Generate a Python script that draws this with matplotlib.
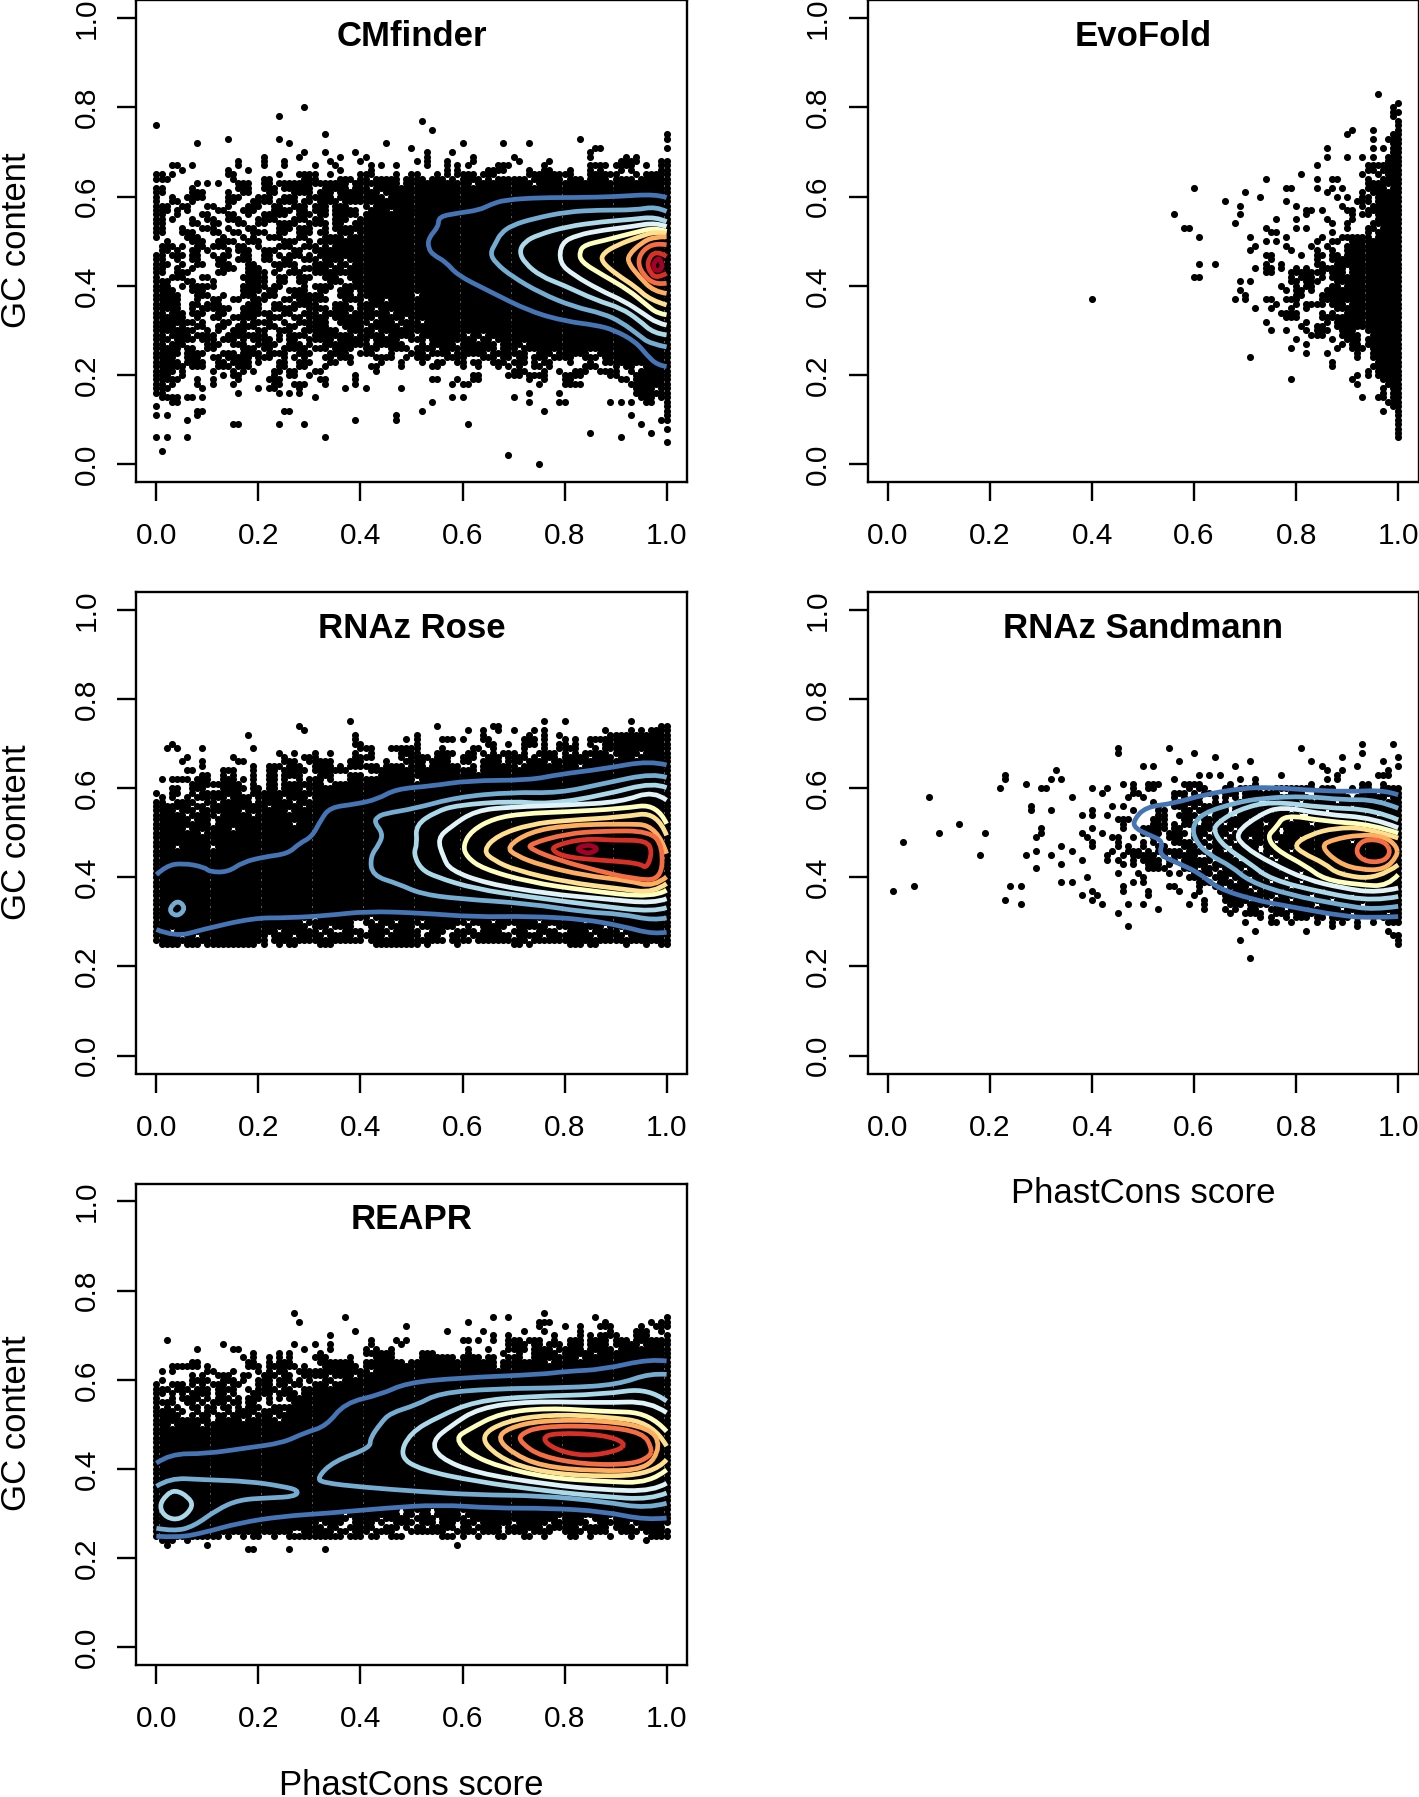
import matplotlib
matplotlib.use("Agg")
import matplotlib.pyplot as plt
from matplotlib.path import Path
from matplotlib.patches import PathPatch

plt.rcParams['font.family'] = ['Liberation Sans', 'DejaVu Sans']

# RdYlBu steps, outer contour first
LEVEL_COLORS = ['#4575B4', '#74ADD1', '#ABD9E9', '#E0F3F8', '#FFFFBF',
                '#FEE090', '#FDAE61', '#F46D43', '#D73027', '#A50026']

TICKS = [0.0, 0.2, 0.4, 0.6, 0.8, 1.0]
TICK_LABELS = ['0.0', '0.2', '0.4', '0.6', '0.8', '1.0']

# Points sit on a 0.01 grid. Key is GC content in %, text is PhastCons runs in %.
CM_ROWS = {
    80: "29", 78: "24", 77: "52", 76: "0", 75: "54", 74: "33 100", 73: "14 24 83 100",
    72: "8 26 45 60 68 73", 71: "50 86-87 100", 70: "29 33 39 53 58 85",
    69: "21 28 36 41 53 62 70 85 92 94",
    68: "16 21 25 34 40 51 53 57 62 71 77 91-94 99-100",
    67: "3-4 7 16 21 25 31 35 42 44 47 53 57 59 61 67-69 76 85-88 90-93 96 99-100",
    66: "5 14 18 36 42 57 59 65-68 73 76-77 81 85 87 91 93 99-100",
    65: "0-1 3 14-15 24 28-31 34 40-42 47 50-51 55 57 59-62 64-66 73-81 85-90 94 96-100",
    64: "0-2 15 21-22 29-31 36-38 40-41 43-47 49-52 54-56 58 60-63 65 67-72 74-79 81-83 85-88 90-93 95-100",
    63: "8 10 12 16-18 21-22 24-37 39-47 49-61 63-73 75-100",
    62: "0-1 7 16-18 21-23 25-30 33-37 39-41 43-100",
    61: "0-1 7-9 14 17-18 22-23 27-30 32-34 36-43 45-100",
    60: "0 3 6-9 14-16 20-22 25-27 30-34 36-44 46-100",
    59: "0 3-4 7 14-15 19-22 24-27 29-30 32-35 37-100",
    58: "0-2 5-6 10-11 14 18-20 23-24 27-29 31-33 35-37 41 43-100",
    57: "0-2 4 6 12-13 17-19 23-26 28-29 31-33 35-39 42-45 47-100",
    56: "0-1 4 9-10 14-15 18 21-25 28-30 32-33 35-39 41-100",
    55: "0-1 3 7 10-11 14-16 20-23 27-29 31-32 35-37 40-100",
    54: "0-1 7-8 11-12 16-17 20-21 24-27 30-33 35-36 39-100",
    53: "0-1 5 9-11 14 18-19 24-26 28-30 33 35-100",
    52: "0-1 5-7 11-12 15-16 19-21 24-25 28-30 32-33 36-38 40-100",
    51: "0 6-8 13 17 19 22-24 28-29 33-36 38-100",
    50: "2 7-9 12-15 18-20 25-27 30 32-100",
    49: "1-3 5 8-9 11-13 16-17 20 24-26 29-31 33 35-100",
    48: "1-2 4 7-8 10 14 16-18 21-23 27-28 31-100",
    47: "0-1 3-5 7-8 11 13-14 17-18 21-22 24 26-28 30 32-100",
    46: "0-1 4 7-8 12-13 16-18 21-22 25-26 29-31 33-36 38-100",
    45: "0-2 5 8-9 12-14 18-19 23-27 31-34 36-37 39-100",
    44: "0-1 4 7 13-15 18-20 24 27 29-33 35-36 38-100",
    43: "0-1 4-6 12-13 18-21 23 26-28 31-100",
    42: "0 3-5 9-10 17-21 24-25 28-30 33-35 38-100",
    41: "0-2 6-7 11 18-21 24-25 28-29 34-36 39-100",
    40: "0-2 5 7-11 17-21 23-24 29 31-34 37-100",
    39: "0-3 7-9 17-20 22-23 26-29 32-33 36-38 40-100",
    38: "0-4 8-10 13 17-19 21-23 27-32 36-38 40-50 52-100",
    37: "0-4 8 11-12 15-16 19-21 25-26 28-33 37-40 42-44 46-100",
    36: "0-4 7-8 10-12 18-20 23-24 27-31 35-37 40-100",
    35: "0-4 7 9-14 17-20 23-27 30-33 35-38 40-42 44-100",
    34: "0-1 3-5 7-9 12-13 17-22 25-26 29-31 33-37 39-45 47-100",
    33: "0-5 8 11-12 15-19 22-24 27-28 30-33 35-42 44-48 50-100",
    32: "0-7 9 13-14 17 19-22 25 28-33 36-41 43-46 48-51 53-100",
    31: "0-3 5 8-9 12-13 16-19 22-23 26-27 30-33 37-40 42-47 49-100",
    30: "0-7 10 12 15-17 20-21 24-26 29-35 38-42 44-100",
    29: "0-1 3-6 8-11 14-21 24 26-29 31-38 40-44 46-50 52-60 62-63 65-100",
    28: "0-2 4-7 9-11 13-15 17 19-22 24 26-27 30-34 36-41 43-47 50-52 54-62 64-65 67-100",
    27: "0-1 3-5 10-12 15-17 20-23 26-28 30 33-41 43-48 52 54-58 60-66 68-71 73-100",
    26: "0-4 6-7 10-11 17-19 21-22 25-29 31-33 35-38 41-43 46-49 51-54 56-66 68-70 72-100",
    25: "0-4 6-9 13-15 17-20 22-25 28-30 34-37 40-42 46 50-52 54-57 59-64 66-72 75-77 79-84 87-100",
    24: "0-3 6-8 11-12 14-18 20-22 25 27 29 33-34 36-38 43-46 49 51-53 57-60 64-66 68-69 71-72 74-76 78-81 84-86 88-100",
    23: "0-4 6-9 12-13 15-18 20 24-25 28-30 34-35 38 44 48 52 55-56 59-60 62-63 66-68 70-72 74 76-77 81 85 88-100",
    22: "0-5 7-9 12-14 16-18 24-25 28-29 33 42-43 48 54-55 60 63 67 69 71 74-75 77 84-86 90 92-93 96-100",
    21: "0-3 5 11 15 17 19 23-24 26-27 31-32 43 70-72 76 79 82-84 87-90 93 95-100",
    20: "0-2 5 13 15-16 23 26-27 30 39 62-63 69-71 73-76 80-83 89-90 94-100",
    19: "0-4 8 11 16 22-24 32-33 39 54-55 59 62-63 73 76 80-81 91-92 94-100",
    18: "0-1 3 8 11 15 23-24 27-29 33 39 58 60-61 75 80-83 93-100",
    17: "0-2 9 20 22-23 28 37 41 48 94-97 99-100",
    16: "0-1 16 24 26 28 73 79 94-100",
    15: "1-4 6-7 9 31 58 60 70 95-97 99-100",
    14: "3-4 54 73 79-80 89 91 93 96-97 100",
    13: "0 100", 12: "8-9 25-26 52 76 100", 11: "0 2 8 47 93 100", 10: "6 39 47 99-100",
    9: "15-16 24 29 61 95", 8: "100", 7: "85 97", 6: "0 2 6 33 91", 5: "100", 3: "1", 2: "69", 0: "75",
}

EVO_ROWS = {
    83: "96", 81: "100", 80: "99", 79: "99-100", 78: "99", 77: "100", 76: "100", 75: "91 95 100",
    74: "90 99-100", 73: "95 98-100", 72: "99-100", 71: "86 95 97 99-100", 70: "99-100",
    69: "86 90 93 95 98-100", 68: "98-100", 67: "84 94-100", 66: "94-95 97-100",
    65: "81 93 96 98-100", 64: "74 84 87-88 94 97-100", 63: "94-100", 62: "60 78-79 84 87 89 94-97 99-100",
    61: "70 86 93 95-100", 60: "73 88 90 93-94 96-100", 59: "66 78 92-94 96-100", 58: "69 80 89 93 95-100",
    57: "82-83 85 90-91 94-100", 56: "56 69 82 91 93-94 96-100", 55: "76 80 86 91 96-100",
    54: "68 87 90 95-100", 53: "58-59 74 80 82 90 94-95 97-100", 52: "75-76 87 94 96-100",
    51: "61 71 78 85 89-94 96-100", 50: "74 76 84 87-88 91-100", 49: "72 78 83 86 90-100",
    48: "71 79 84 87 90-100", 47: "74-75 81 84-85 87-88 90-100", 46: "75 84 87-89 90-100",
    45: "61 64 74 77 84-85 88-100", 44: "72 74-75 77 80 82 85-89 91-100",
    43: "74-75 79-80 81-83 84-85 87-89 91-100", 42: "60-61 79 81-83 85 87-100",
    41: "69 71 79-80 82-84 88-100", 40: "77 80 82-83 87-88 90-100", 39: "69 78 80-81 83 86-100",
    38: "70 80-81 85-100", 37: "40 68 70 74-75 78-80 85-100", 36: "76 80 82-85 87-89 91-100",
    35: "72 75 79 82 88-100", 34: "77-80 85 87 90-100", 33: "78-80 85-87 88-100", 32: "74 82 86 88-100",
    31: "81 84-85 88-100", 30: "75 78 82 84-86 89-91 94-100", 29: "83-85 89-92 95-100",
    28: "80 87 90-92 94-100", 27: "82 89 91-92 94-100", 26: "79 88 91-93 95-100",
    25: "82 86 92 95-100", 24: "71 92 95-100", 23: "87 96-100", 22: "87 95-100", 21: "94 96-100",
    20: "92 94 96-100", 19: "79 91 97-100", 18: "92 98-100", 17: "97 99-100", 16: "97 99-100",
    15: "93 96-97 99-100", 14: "98-100", 13: "99-100", 12: "97 100", 11: "100", 10: "100",
    9: "100", 8: "100", 7: "100", 6: "100",
}

ROSE_ROWS = {
    75: "38 76 80 93", 74: "28 55 66-67 99-100", 73: "29 61 64 67 70 74 76 88 93 95 97-100",
    72: "18 39 51 64 73 76 79 89-100", 71: "39 49 51 56-58 60 64-65 72-74 76 80 82 85-88 89-100",
    70: "3 39-40 51 65-66 69 72-74 76 79-80 82 85 88-100",
    69: "2 4 9 19 40-42 46-51 56 62-63 66 72 76 79-82 86 88-100",
    68: "24 27 31 34 39 42 48-51 55-58 61-62 64 66 68-70 72 75-78 80 82 84-88 90-94 96-100",
    67: "6 15 25 29-31 39-42 48 50-53 55-57 60-62 65-67 69-72 74 76-78 80-84 86-89 91-93 95-100",
    66: "5 9 16-17 25-27 30-34 38-40 45 49-52 54-57 60-61 64-67 69-71 73-76 78-100",
    65: "9 19 22-24 26-28 31-34 36 38-43 45-48 50-52 54-59 62 64-70 72-82 84-100",
    64: "6-7 13-15 19 22-23 25-29 31-37 42-49 50-62 64-100",
    63: "9-10 13 15 19 22-23 25-28 32-34 38-40 44-100",
    62: "1 3-6 8-10 13-15 17 19 22-23 25 28 30-32 34 38-50 52-100",
    61: "7-12 13-16 19 22-23 25-32 35-100",
    60: "3-4 7-9 13-17 19-20 22-23 25-28 30-100",
    59: "0 3-4 7 9-12 13-16 19-21 22-100",
    58: "1 3 6 8-13 15-18 20-24 26-29 31-100",
    57: "0-1 4-7 10-11 13-18 20-26 28-100",
    56: "0-6 8-9 11-21 23-28 30-100",
    55: "0-3 5-7 9-16 18-25 27-100",
    54: "0-5 7-11 13-18 20-100",
    53: "0-6 8-10 12-100",
    52: "0-10 12-26 28-100",
    51: "0-5 7-14 16-100",
    50: "0-8 10-100",
    47: "0-3 5-10 12-100",
    31: "0-30 32-41 43-100",
    30: "0-28 30-38 41-42 44-46 48-51 53-60 62-65 67-74 76-83 85-100",
    29: "0-29 31-33 35-38 42-44 46-50 52-58 61 64-68 71-76 79-87 89-100",
    28: "0-2 4-23 25-31 33-34 37-40 42-45 47-51 54-56 59-62 64-67 70-72 75-78 81-84 86-90 92-100",
    27: "0-4 6-7 9-21 23-26 28-32 34-38 40-44 46-51 53-55 58-60 62-69 71-75 77-85 87-91 93-100",
    26: "0-21 23-40 42-56 58-61 63-72 74-100",
    25: "1-4 6-8 10-14 15-19 21 24 26-27 32-34 43-51 53 59 70-71 73 81-83 85-86 92 96 99-100",
}
ROSE_SOLID = (32, 49)

SAND_ROWS = {
    70: "93 99", 69: "45 55 81", 68: "45 60 93", 67: "64 89 100", 66: "57 71 83 97",
    65: "50 52 68 85 92 100", 64: "33 86 89 98", 63: "23 61 63 65 77 88 96-98",
    62: "23 32 34 56 69 72 86 88", 61: "27 46 48 51-53 58-61 67 72 83 93-94 97",
    60: "22 30-31 40 43 48 51-52 59 61-62 66-67 69-72 76-83 85-87 91 93-94 97-100",
    59: "42 48-49 56-58 60 62-63 66-68 70-76 79-81 84-89 93-95 97-100",
    58: "8 36 47 50 56 58 60-61 64 66 68 70-74 77-82 85-90 92-97 99-100",
    57: "52 56-61 64 66 69-72 75-80 82-87 89-95 98-100",
    56: "28 44 46 53 56-58 60 62-66 68-71 73-79 81-90 92-100",
    55: "28 32 40 48 53-54 58-59 61-62 64-66 68-74 76-78 80-85 87-93 95-100",
    54: "38 40 43 53-54 57-60 62 64-66 69-72 74-80 83-87 89-95 97-100",
    53: "45-47 52-54 58-59 62-64 66-70 72-78 80-100",
    52: "14 46 52-54 56 58-60 62-65 67-73 75-82 84-100",
    51: "30 40 46 50-54 56-57 60-63 65-67 69-76 78-100",
    50: "10 19 30 38 42 50-53 55-58 60-62 64-66 68-74 76 78-100",
    49: "29 39 44-45 48 52 55-57 60-61 63-65 67-70 72-80 82-100",
    48: "3 40 45 50 52 56-59 61-62 64-67 69-75 77-90 92-100",
    47: "34 40 45 47 50 53-54 58-60 63-66 68-72 74-79 81-100",
    46: "29 36 44 47-49 51 53-57 59-62 64-65 67-72 74-78 80-100",
    45: "18 27 32 43 46 48-52 54 56-60 63-67 69-74 76-100",
    44: "38 43 45 48 50-53 55-56 58-63 65-68 70-75 77-100",
    43: "34 46 48 51-53 55 58-62 64-70 72-100",
    42: "29 51-54 58-60 62-64 66-69 71-76 78-100",
    41: "45 49 55 57 60-63 65-68 70-72 74-80 82-88 90-100",
    40: "39 50 59-61 64-66 68-70 72-77 79-85 87-100",
    39: "34 36 48 50 61-63 65-67 69-74 76-80 82-100",
    38: "5 24 26 46 55-56 61 64-65 67-70 72-73 75-78 80-88 90-100",
    37: "1 40 46 51 57 61 65-66 68-71 73-76 78-84 86-100",
    36: "38 41 51 60 66-69 71-75 77-82 84-90 92-100",
    35: "23 40 62 66-70 72-74 76-78 80-86 88-100",
    34: "26 42 47 50 59 62 67-69 71-74 76-83 85-92 94-100",
    33: "53 62 66 68 71-72 75-77 79-81 83-88 90-100",
    32: "45 67 70-73 76-78 80-85 87-90 92-97 99-100",
    31: "73 75 78 80-82 84-85 87-90 92 95 97-100",
    30: "70 75-76 79 84 87 89 92 95 98-100",
    29: "47 87 92", 28: "72 82 98", 27: "99-100", 26: "69 100", 25: "100", 22: "71",
}

REAPR_ROWS = {
    75: "27 76", 74: "37 66 69 86 100", 73: "28 61 75-77 88 97 99-100",
    72: "49 75 80 83 87-89 95 98-100", 71: "39 57 64 72 76 83 89 94-96 99",
    70: "34 66 69 78 83 85 87-90 94-96 100",
    69: "2 42 47 49 60-61 63 66 69-71 73-75 78 81-83 85-88 90-92 94-100",
    68: "13 27 31 34 42 48 69-72 74-75 77-79 81-83 85-88 90-94 96-100",
    67: "8 15-16 29 34 41 43 46 61 65 69-72 74-77 79-83 85-89 91-100",
    66: "19 24 26 32 41-46 52-54 61 68 71 74-78 80-85 87-100",
    65: "17 19 22 24 26 31-33 38 43-46 52-58 60-63 65-66 69-71 74-82 84-100",
    64: "7-8 18-19 22 24-26 32-38 41-48 50-58 59-66 68-76 78-100",
    63: "3-6 7-8 10 18-20 22-24 25-27 29 33-39 41-66 68-100",
    62: "1 3 10-11 15 20 22 24-25 28-41 43-100",
    61: "7 9 12-14 17-18 21-23 25-26 29-33 35-38 40-100",
    60: "1 7-10 13-15 17 20-22 24-26 28 30 33-34 37-100",
    59: "0 3-5 7 9 11-13 15-16 20-22 24-25 27-28 31-33 35-100",
    58: "0-2 4-6 8-10 12-15 18 20-23 25-26 29-100",
    57: "0-1 3 5 7-10 12-13 15 19-22 24-27 29-100",
    56: "0 3 5-8 10 12-14 16 18-20 22 24 26-100",
    55: "0-3 6-7 9 11-13 15-16 18-19 22 27-100",
    54: "0 2 4 7-8 10-11 13-14 16 18-20 23-100",
    53: "0-3 5 8 10-11 14 16-19 21-24 26-100",
    52: "0-4 7 9-10 12-13 15-18 20-22 24-100",
    51: "0-10 12-16 18-23 25-100",
    50: "0-2 4-8 10-100",
    31: "0-47 49-53 55-100",
    30: "0-36 38-47 49-50 52-53 55-59 61-100",
    29: "0-37 39-43 45-49 51-54 56-60 62-78 80-83 86-88 90-100",
    28: "0-31 33-36 39-42 44 47-50 52-54 56-58 60-62 64-69 71-76 78-84 87-92 94-100",
    27: "0-32 34-35 38-42 45-47 49 51-52 54-58 60-61 63-67 69-75 77-82 84-88 90-93 95-99",
    26: "0-26 29-34 36-37 39-41 43-46 50-56 59-62 64-67 69-72 74-77 80-83 85-88 91-94 96-100",
    25: "0-12 14 17 19-20 23 26-33 34-36 38-40 42-43 46-48 56-58 60 63 67-68 72-73 76 81-82 85 89 93 97-100",
    24: "1-3 6 96", 23: "2 10 59", 22: "18-19 26 33",
}
REAPR_SOLID = (32, 49)

# Contours: (level index, [(PhastCons, GC), ...])
CM_CONTOURS = [
    (0, [(1.0, .598), (.98, .606), (.90, .600), (.825, .598), (.755, .598), (.683, .593), (.654, .582), (.633, .570), (.59, .563), (.553, .555), (.553, .533), (.533, .507), (.533, .484), (.543, .469), (.567, .454), (.59, .424), (.647, .391), (.733, .342), (.804, .320), (.861, .312), (.897, .301), (.939, .275), (.961, .245), (.982, .222), (1.0, .219)]),
    (1, [(1, .567), (.979, .578), (.939, .570), (.869, .570), (.804, .566), (.740, .551), (.697, .536), (.675, .518), (.665, .496), (.654, .473), (.665, .451), (.697, .421), (.754, .383), (.818, .353), (.875, .338), (.911, .319), (.946, .289), (.968, .270), (1, .263)]),
    (2, [(1, .544), (.979, .555), (.932, .549), (.875, .544), (.804, .533), (.747, .514), (.722, .499), (.711, .477), (.722, .451), (.754, .421), (.797, .402), (.861, .368), (.911, .350), (.946, .323), (.975, .293), (1, .290)]),
    (3, [(1, .533), (.979, .542), (.932, .533), (.875, .525), (.825, .514), (.793, .496), (.790, .451), (.818, .424), (.868, .391), (.918, .365), (.954, .338), (.982, .316), (1, .312)]),
    (4, [(1, .522), (.979, .531), (.932, .518), (.875, .501), (.840, .492), (.829, .477), (.832, .454), (.875, .424), (.925, .391), (.961, .357), (.982, .338), (1, .335)]),
    (5, [(1, .518), (.979, .522), (.946, .510), (.904, .492), (.875, .473), (.872, .454), (.904, .424), (.939, .398), (.968, .368), (1, .357)]),
    (6, [(1, .510), (.975, .510), (.950, .496), (.925, .469), (.925, .451), (.946, .421), (.975, .387), (1, .383)]),
    (7, [(1, .492), (.979, .496), (.954, .481), (.943, .454), (.954, .424), (.979, .402), (1, .406)]),
    (8, [(1, .466), (.979, .481), (.961, .454), (.968, .428), (.982, .417), (1, .428)]),
    (9, [(.986, .466), (.972, .447), (.979, .432), (.993, .439), (.986, .466)]),
]

ROSE_CONTOURS = [
    (0, [(0, .406), (.019, .426), (.052, .432), (.094, .423), (.105, .412), (.141, .412), (.169, .434), (.212, .446), (.258, .453), (.280, .476), (.305, .491), (.322, .528), (.340, .557), (.390, .564), (.433, .575), (.469, .598), (.540, .605), (.611, .617), (.732, .618), (.789, .631), (.875, .643), (.968, .662), (1, .652)]),
    (0, [(0, .283), (.037, .266), (.090, .283), (.190, .309), (.255, .309), (.333, .314), (.412, .324), (.518, .320), (.625, .311), (.732, .313), (.839, .306), (.911, .291), (.975, .272), (1, .277)]),
    (1, [(.041, .350), (.058, .331), (.041, .311), (.023, .326), (.041, .350)]),
    (1, [(1, .624), (.975, .634), (.875, .610), (.789, .589), (.697, .591), (.590, .580), (.505, .554), (.447, .543), (.433, .535), (.427, .524), (.444, .498), (.437, .475), (.419, .446), (.423, .404), (.475, .385), (.518, .363), (.590, .352), (.732, .341), (.839, .322), (.911, .318), (.975, .303), (1, .309)]),
    (2, [(1, .601), (.975, .614), (.875, .584), (.768, .564), (.697, .571), (.590, .562), (.547, .547), (.508, .517), (.511, .475), (.504, .453), (.518, .419), (.547, .401), (.625, .374), (.732, .356), (.861, .337), (.975, .322), (1, .332)]),
    (3, [(1, .573), (.975, .595), (.911, .569), (.804, .562), (.697, .558), (.625, .550), (.576, .513), (.551, .487), (.562, .446), (.576, .416), (.647, .386), (.768, .363), (.875, .352), (.975, .341), (1, .352)]),
    (4, [(1, .520), (.982, .565), (.911, .554), (.804, .547), (.718, .543), (.661, .532), (.618, .505), (.601, .472), (.608, .446), (.640, .419), (.732, .389), (.839, .371), (.975, .354), (1, .371)]),
    (5, [(1, .494), (.982, .547), (.911, .535), (.804, .528), (.732, .519), (.668, .494), (.640, .460), (.661, .438), (.704, .416), (.804, .389), (.911, .374), (.975, .365), (1, .386)]),
    (6, [(1, .453), (.982, .517), (.911, .520), (.804, .517), (.732, .502), (.686, .468), (.704, .449), (.754, .427), (.839, .404), (.925, .393), (.975, .378), (1, .401)]),
    (7, [(.989, .393), (.993, .468), (.968, .504), (.875, .504), (.804, .498), (.732, .475), (.732, .464), (.790, .438), (.861, .416), (.932, .397), (.989, .393)]),
    (8, [(.961, .419), (.972, .457), (.961, .483), (.897, .483), (.839, .487), (.782, .472), (.775, .460), (.804, .445), (.875, .438), (.946, .432), (.961, .419)]),
    (9, [(.82, .464), (.847, .474), (.868, .464), (.847, .452), (.82, .464)]),
]

SAND_CONTOURS = [
    (0, [(1, .585), (.973, .596), (.903, .592), (.820, .596), (.750, .602), (.694, .600), (.617, .585), (.561, .566), (.505, .558), (.481, .528), (.484, .510), (.512, .495), (.540, .481), (.530, .451), (.568, .432), (.610, .410), (.645, .376), (.715, .350), (.785, .335), (.890, .313), (.953, .309), (1, .312)]),
    (1, [(1, .555), (.959, .574), (.890, .574), (.820, .582), (.736, .578), (.680, .567), (.617, .544), (.596, .514), (.603, .481), (.628, .451), (.673, .425), (.708, .391), (.785, .361), (.890, .338), (.953, .327), (1, .335)]),
    (2, [(1, .529), (.953, .552), (.855, .556), (.750, .571), (.687, .552), (.645, .522), (.638, .503), (.659, .469), (.708, .432), (.750, .395), (.855, .365), (.953, .346), (1, .357)]),
    (3, [(1, .511), (.953, .533), (.855, .541), (.771, .559), (.729, .541), (.680, .499), (.697, .469), (.750, .432), (.820, .395), (.890, .376), (.959, .365), (1, .376)]),
    (4, [(1, .499), (.953, .518), (.855, .526), (.778, .541), (.760, .511), (.743, .492), (.760, .462), (.820, .425), (.855, .395), (.925, .383), (.980, .380), (1, .406)]),
    (5, [(1, .488), (.939, .511), (.876, .511), (.827, .496), (.795, .473), (.813, .454), (.855, .432), (.883, .406), (.960, .395), (1, .428)]),
    (6, [(.998, .469), (.973, .492), (.925, .496), (.869, .484), (.848, .469), (.883, .432), (.925, .417), (.973, .417), (.998, .447), (.998, .469)]),
    (7, [(.973, .481), (.939, .486), (.921, .473), (.918, .451), (.939, .434), (.973, .436), (.986, .458), (.973, .481)]),
]

REAPR_CONTOURS = [
    (0, [(0, .413), (.026, .434), (.098, .434), (.176, .447), (.247, .458), (.290, .481), (.333, .496), (.369, .548), (.440, .567), (.490, .593), (.590, .604), (.754, .612), (.804, .619), (.875, .623), (.968, .647), (1, .642)]),
    (0, [(0, .249), (.041, .246), (.090, .256), (.162, .279), (.247, .294), (.340, .301), (.447, .312), (.554, .320), (.661, .312), (.768, .312), (.875, .305), (.961, .285), (1, .290)]),
    (1, [(0, .361), (.026, .380), (.090, .376), (.183, .372), (.247, .361), (.279, .352), (.272, .338), (.219, .335), (.162, .331), (.119, .309), (.073, .271), (.034, .260), (0, .267)]),
    (1, [(1, .612), (.968, .615), (.904, .589), (.804, .582), (.661, .580), (.554, .570), (.511, .544), (.458, .525), (.440, .503), (.419, .469), (.419, .447), (.347, .417), (.315, .380), (.326, .369), (.405, .359), (.519, .349), (.625, .342), (.754, .340), (.875, .327), (.961, .311), (1, .323)]),
    (2, [(.037, .353), (.062, .338), (.073, .316), (.048, .286), (.019, .290), (.005, .316), (.019, .342), (.037, .353)]),
    (2, [(1, .552), (.965, .582), (.875, .567), (.732, .563), (.625, .552), (.554, .518), (.497, .481), (.476, .428), (.518, .398), (.625, .372), (.768, .350), (.875, .338), (.968, .331), (1, .346)]),
    (3, [(1, .526), (.968, .552), (.875, .548), (.732, .552), (.632, .537), (.576, .496), (.540, .462), (.554, .425), (.625, .391), (.768, .365), (.875, .353), (.975, .350), (1, .368)]),
    (4, [(1, .484), (.968, .526), (.875, .529), (.768, .537), (.675, .526), (.611, .488), (.586, .469), (.611, .436), (.668, .406), (.768, .380), (.875, .372), (.968, .368), (1, .398)]),
    (5, [(1, .451), (.975, .503), (.875, .518), (.768, .522), (.683, .507), (.633, .473), (.668, .428), (.732, .398), (.839, .383), (.975, .387), (1, .421)]),
    (6, [(.989, .451), (.968, .492), (.875, .509), (.754, .509), (.690, .492), (.668, .469), (.697, .436), (.754, .406), (.861, .395), (.961, .398), (.989, .451)]),
    (7, [(.971, .447), (.954, .481), (.875, .496), (.754, .496), (.711, .477), (.715, .458), (.754, .428), (.839, .410), (.932, .410), (.968, .428), (.971, .447)]),
    (8, [(.922, .458), (.875, .477), (.782, .481), (.754, .469), (.782, .443), (.839, .428), (.904, .440), (.922, .458)]),
]

W, H = 1419, 1797
AX_W, AX_H = 551, 481.5


def grid_points(rows, solid=None):
    xs, ys = [], []
    for gc, runs in rows.items():
        for part in runs.split():
            lo, _, hi = part.partition('-')
            for v in range(int(lo), int(hi or lo) + 1):
                xs.append(v / 100)
                ys.append(gc / 100)
    if solid:
        for gc in range(solid[0], solid[1] + 1):
            if gc in rows:
                continue
            for v in range(0, 101):
                xs.append(v / 100)
                ys.append(gc / 100)
    return xs, ys


def mid(a, b):
    return ((a[0] + b[0]) / 2, (a[1] + b[1]) / 2)


def contour_path(pts):
    # quadratic curves through the midpoints, the read values are the control points
    if pts[0] == pts[-1]:
        p = pts[:-1]
        verts = [mid(p[-1], p[0])]
        codes = [Path.MOVETO]
        for i in range(len(p)):
            verts += [p[i], mid(p[i], p[(i + 1) % len(p)])]
            codes += [Path.CURVE3, Path.CURVE3]
        return Path(verts, codes)
    verts = [pts[0]]
    codes = [Path.MOVETO]
    for i in range(1, len(pts) - 1):
        end = pts[-1] if i == len(pts) - 2 else mid(pts[i], pts[i + 1])
        verts += [pts[i], end]
        codes += [Path.CURVE3, Path.CURVE3]
    return Path(verts, codes)


def panel(fig, left, top, title, rows, contours=None, solid=None, ylabel=False, xlabel=False):
    ax = fig.add_axes([left / W, 1 - (top + AX_H) / H, AX_W / W, AX_H / H])
    xs, ys = grid_points(rows, solid)
    ax.scatter(xs, ys, s=26, c='black', linewidths=0, zorder=2)
    for level, pts in contours or []:
        ax.add_patch(PathPatch(contour_path(pts), fill=False, edgecolor=LEVEL_COLORS[level],
                               lw=3.4, joinstyle='round', capstyle='butt', zorder=3 + level))
    ax.set_xlim(-0.04, 1.04)
    ax.set_ylim(-0.04, 1.04)
    ax.set_xticks(TICKS)
    ax.set_xticklabels(TICK_LABELS)
    ax.set_yticks(TICKS)
    ax.set_yticklabels(TICK_LABELS, rotation=90, va='center')
    ax.tick_params(length=14, width=1.7, labelsize=21.5, color='black')
    ax.tick_params(axis='x', pad=15)
    ax.tick_params(axis='y', pad=11.5)
    for s in ax.spines.values():
        s.set_linewidth(1.7)
    ax.text(0.5, 1 - 36 / AX_H, title, transform=ax.transAxes, ha='center', va='center',
            fontsize=25, fontweight='bold')
    if ylabel:
        fig.text(16.5 / W, 1 - (top + 240) / H, 'GC content', rotation=90, ha='center', va='center', fontsize=25)
    if xlabel:
        fig.text((left + AX_W / 2) / W, 1 - (top + AX_H + 120) / H, 'PhastCons score',
                 ha='center', va='center', fontsize=25)
    return ax


def main():
    fig = plt.figure(figsize=(W / 100, H / 100), dpi=100)
    panel(fig, 136, 0.5, 'CMfinder', CM_ROWS, CM_CONTOURS, ylabel=True)
    panel(fig, 867.6, 0.5, 'EvoFold', EVO_ROWS)
    panel(fig, 136, 592, 'RNAz Rose', ROSE_ROWS, ROSE_CONTOURS, ROSE_SOLID, ylabel=True)
    panel(fig, 867.6, 592, 'RNAz Sandmann', SAND_ROWS, SAND_CONTOURS, xlabel=True)
    panel(fig, 136, 1183.6, 'REAPR', REAPR_ROWS, REAPR_CONTOURS, REAPR_SOLID, ylabel=True, xlabel=True)
    fig.savefig('out.png', dpi=100)


if __name__ == '__main__':
    main()
